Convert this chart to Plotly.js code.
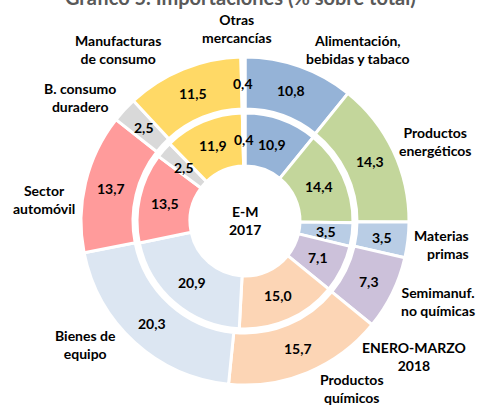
<!DOCTYPE html>
<html>
<head>
<meta charset="utf-8">
<script src="https://cdn.plot.ly/plotly-3.0.1.min.js"></script>
<style>html,body{margin:0;padding:0;background:#fff;}#chart{width:479px;height:406px;}</style>
</head>
<body>
<div id="chart"></div>
<script>
// ---- data ----
const categories = [
  "Alimentación,<br>bebidas y tabaco",
  "Productos<br>energéticos",
  "Materias<br>primas",
  "Semimanuf.<br>no químicas",
  "Productos<br>químicos",
  "Bienes de<br>equipo",
  "Sector<br>automóvil",
  "B. consumo<br>duradero",
  "Manufacturas<br>de consumo",
  "Otras<br>mercancías"
];
const values2018 = [10.8, 14.3, 3.5, 7.3, 15.7, 20.3, 13.7, 2.5, 11.5, 0.4];
const values2017 = [10.9, 14.4, 3.5, 7.1, 15.0, 20.9, 13.5, 2.5, 11.9, 0.4];
const ringNames = ["ENERO-MARZO<br>2018", "E-M<br>2017"];
const titleText = "Gráfico 5. Importaciones (% sobre total)";

// ---- styles / layout ----
const colors = ["#95B3D7", "#C3D69B", "#B9CDE5", "#CCC1DA", "#FCD5B5",
                "#DCE6F2", "#FF9B9B", "#D9D9D9", "#FFD966", "#FFFFFF"];
const W = 479, H = 406;
const cx = 245, cy = 221;
const outerR = 164, outerHoleR = 112;
const innerR = 108, innerHoleR = 55;
// label anchor positions (px) for the category names
const labelPos = [
  [358, 49, "center"], [435, 141, "center"], [471, 244, "right"],
  [438, 301, "center"], [352, 388, "center"], [85, 344, "center"],
  [44, 199, "center"], [80, 97, "center"], [118, 49, "center"], [237, 28, "center"]
];

const FONT = {family: "Lato, 'Open Sans', sans-serif", size: 14, color: "#000000", weight: 700};

function px(x, y) { return {x: x / W, y: 1 - y / H}; }
function domainFor(R) {
  return {x: [(cx - R) / W, (cx + R) / W], y: [(H - cy - R) / H, (H - cy + R) / H]};
}
function fmt(v) { return v.toFixed(1).replace('.', ','); }

function ringTrace(vals, R, holeR) {
  return {
    type: 'pie', values: vals, labels: categories, sort: false,
    direction: 'clockwise', rotation: 0,
    hole: holeR / R, domain: domainFor(R),
    marker: {colors: colors, line: {color: '#FFFFFF', width: 3}},
    textinfo: 'none', hoverinfo: 'label+value', showlegend: false
  };
}

const annotations = [];
function valueLabels(vals, rMid) {
  const total = vals.reduce((a, b) => a + b, 0);
  let cum = 0;
  vals.forEach(v => {
    const th = (cum + v / 2) / total * 2 * Math.PI;
    cum += v;
    const p = px(cx + rMid * Math.sin(th), cy - rMid * Math.cos(th));
    annotations.push({xref: 'paper', yref: 'paper', x: p.x, y: p.y, text: fmt(v),
      showarrow: false, xanchor: 'center', yanchor: 'middle', font: FONT});
  });
}
valueLabels(values2018, (outerR + outerHoleR) / 2);
valueLabels(values2017, (innerR + innerHoleR) / 2);

categories.forEach((c, i) => {
  const [lx, ly, al] = labelPos[i];
  const p = px(lx, ly);
  annotations.push({xref: 'paper', yref: 'paper', x: p.x, y: p.y, text: c, showarrow: false,
    xanchor: al, yanchor: 'middle', align: al, font: FONT});
});

// ring names
let p = px(cx, 220);
annotations.push({xref: 'paper', yref: 'paper', x: p.x, y: p.y, text: ringNames[1], showarrow: false,
  xanchor: 'center', yanchor: 'middle', font: FONT});
p = px(414, 356);
annotations.push({xref: 'paper', yref: 'paper', x: p.x, y: p.y, text: ringNames[0], showarrow: false,
  xanchor: 'center', yanchor: 'middle', font: FONT});
// cut-off title
p = px(240, 11);
annotations.push({xref: 'paper', yref: 'paper', x: p.x, y: p.y, text: titleText, showarrow: false,
  xanchor: 'center', yanchor: 'bottom',
  font: {family: "Lato, 'Open Sans', sans-serif", size: 20, color: "#595959", weight: 700}});

const data = [ringTrace(values2018, outerR, outerHoleR), ringTrace(values2017, innerR, innerHoleR)];
const layout = {
  width: W, height: H, margin: {l: 0, r: 0, t: 0, b: 0},
  paper_bgcolor: '#FFFFFF', plot_bgcolor: '#FFFFFF',
  showlegend: false, annotations: annotations
};
Plotly.newPlot('chart', data, layout, {displayModeBar: false, staticPlot: true});
</script>
</body>
</html>
